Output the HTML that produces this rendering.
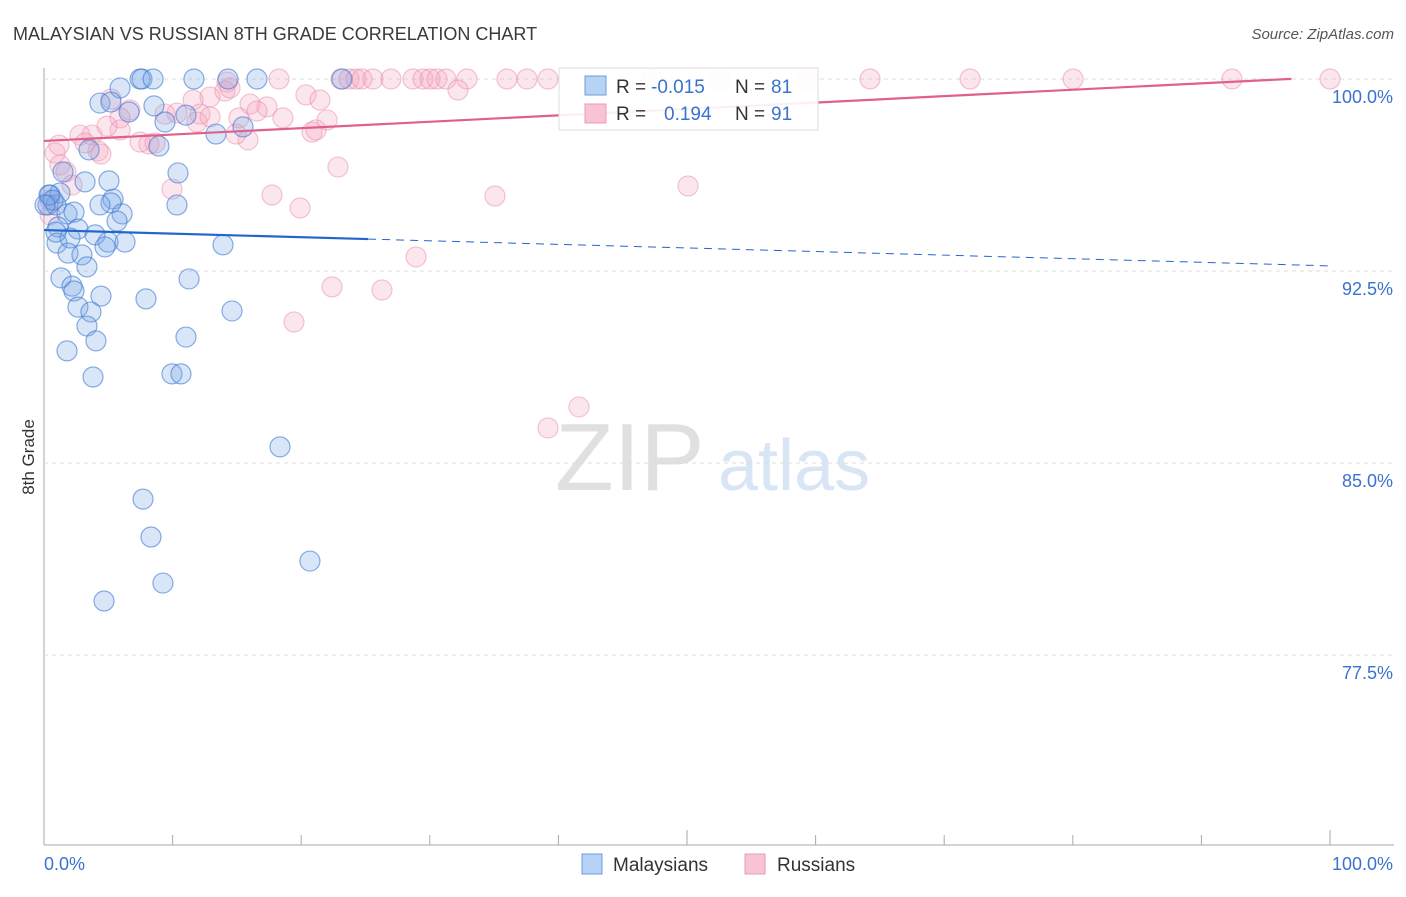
<!DOCTYPE html>
<html><head><meta charset="utf-8"><style>
body{margin:0;background:#fff;font-family:"Liberation Sans",sans-serif}
svg text{font-family:"Liberation Sans",sans-serif}
</style></head><body>
<svg id="c" width="1406" height="892" xmlns="http://www.w3.org/2000/svg">
<text x="13" y="40" font-size="18" fill="#3a3a3a">MALAYSIAN VS RUSSIAN 8TH GRADE CORRELATION CHART</text>
<text x="1394" y="39" font-size="15" fill="#555" font-style="italic" text-anchor="end">Source: ZipAtlas.com</text>
<text x="34" y="457" font-size="17" fill="#333" transform="rotate(-90 34 457)" text-anchor="middle">8th Grade</text>
<g><text x="555" y="490" font-size="96" fill="#e0e0e0" font-family="Liberation Serif,serif">ZIP</text><text x="718" y="490" font-size="72" fill="#d8e5f5">atlas</text></g>
<g id="grid"></g><g id="pts"></g><g id="lines"></g>
<g>
<rect x="559" y="68" width="259" height="62" fill="#fff" fill-opacity="0.9" stroke="#ddd"/>
<rect x="585" y="76" width="21" height="19" fill="#b8d2f4" stroke="#6a9ee0"/>
<rect x="585" y="104" width="21" height="19" fill="#f8c4d4" stroke="#ee9ab6"/>
<text x="616" y="93" font-size="19" fill="#333">R =</text><text x="651" y="93" font-size="19" fill="#3a72d0">-0.015</text>
<text x="735" y="93" font-size="19" fill="#333">N =</text><text x="771" y="93" font-size="19" fill="#3a72d0">81</text>
<text x="616" y="120" font-size="19" fill="#333">R =</text><text x="664" y="120" font-size="19" fill="#3a72d0">0.194</text>
<text x="735" y="120" font-size="19" fill="#333">N =</text><text x="771" y="120" font-size="19" fill="#3a72d0">91</text>
</g>
<g>
<rect x="582" y="854" width="20" height="20" fill="#b8d2f4" stroke="#6a9ee0"/>
<text x="613" y="871" font-size="19" fill="#333">Malaysians</text>
<rect x="745" y="854" width="20" height="20" fill="#f8c4d4" stroke="#ee9ab6"/>
<text x="777" y="871" font-size="19" fill="#333">Russians</text>
</g>
</svg>
<script>
const yTicks=[100,92.5,85,77.5];
const yTickLabels=["100.0%","92.5%","85.0%","77.5%"];
const xTickLabels=["0.0%","100.0%"];
const blueX=[7.47,7.62,8.48,11.66,14.31,16.56,23.17,5.91,4.35,5.21,6.61,8.55,11.04,9.41,13.37,15.47,3.50,8.94,10.42,1.48,3.19,5.05,0.47,1.24,0.31,0.93,5.37,5.21,4.35,10.34,1.79,2.33,6.07,5.68,2.64,1.09,3.97,1.01,2.02,4.98,6.30,4.74,13.92,1.87,2.95,3.34,1.32,11.28,2.18,2.33,4.43,7.93,2.64,3.65,14.62,3.34,11.04,4.04,1.79,9.95,10.65,3.81,18.35,7.70,8.32,20.68,9.25,4.67,0.39,0.70,0.08,0.93];
const blueY=[100,100,100,100,100,100,100,99.65,99.06,99.10,98.71,98.95,98.59,98.32,97.85,98.13,97.23,97.38,96.33,96.37,95.98,96.02,95.47,95.55,95.08,95.08,95.31,95.16,95.08,95.08,94.73,94.80,94.73,94.45,94.14,94.22,93.91,93.59,93.79,93.63,93.63,93.44,93.52,93.20,93.13,92.66,92.23,92.19,91.91,91.72,91.52,91.41,91.09,90.90,90.94,90.35,89.92,89.77,89.38,88.48,88.48,88.36,85.63,83.59,82.11,81.17,80.31,79.61,95.47,95.27,95.08,94.02];
const pinkX=[18.27,23.09,23.72,24.26,24.73,25.58,26.98,28.69,29.47,30.02,30.56,31.26,32.89,36.00,37.56,39.19,47.28,52.57,59.41,64.23,72.01,80.02,92.38,100,14.23,11.59,12.91,16.02,17.34,20.37,21.46,32.19,5.21,14.07,10.34,9.41,6.69,5.91,12.13,15.16,16.56,18.58,22.01,2.80,3.73,5.91,4.90,8.16,11.90,12.91,15.86,8.63,20.84,21.15,3.19,4.20,7.47,0.86,1.24,1.71,2.18,9.95,22.86,17.73,19.91,35.07,50.08,28.93,22.40,26.28,19.44,39.19,41.60,0.47,0.47,4.43,1.17,14.46,14.93];
const pinkY=[100,100,100,100,100,100,100,100,100,100,100,100,100,100,100,100,100,100,100,100,100,100,100,100,99.88,99.18,99.30,99.02,98.91,99.38,99.18,99.57,99.22,99.53,98.67,98.63,98.79,98.48,98.63,98.48,98.75,98.48,98.40,97.81,97.81,98.01,98.16,97.46,98.32,98.52,97.62,97.50,97.93,98.01,97.50,97.19,97.54,97.11,96.64,96.37,95.86,95.70,96.56,95.47,94.96,95.43,95.82,93.05,91.88,91.76,90.51,86.37,87.19,94.69,95.27,97.07,97.42,99.65,97.85];
const blueTrend=[94.10,92.70];
const pinkTrend=[97.58,100.08];
const NS="http://www.w3.org/2000/svg";
const X0=44,X1=1330,Y100=79,PXP=25.6;
const sx=v=>X0+(X1-X0)*v/100, sy=v=>Y100+(100-v)*PXP;
function mk(t,a,p){const e=document.createElementNS(NS,t);for(const k in a)e.setAttribute(k,a[k]);p.appendChild(e);return e;}
const grid=document.getElementById('grid');
mk('line',{x1:44,y1:68,x2:44,y2:845,stroke:'#aaa'},grid);
mk('line',{x1:44,y1:845,x2:1394,y2:845,stroke:'#aaa'},grid);
for(let i=0;i<=10;i++){const l=mk('line',{x1:sx(i*10),x2:sx(i*10),y1:845,y2:i%5==0?830:835,stroke:'#aaa'},grid);

}
yTicks.forEach((v,i)=>{const l=mk('line',{x1:44,x2:1394,y1:sy(v),y2:sy(v),stroke:'#ddd','stroke-dasharray':'4 4'},grid);


const t=mk('text',{x:1393,y:sy(v)+24,'font-size':18,fill:'#3a72d0','text-anchor':'end'},grid);t.textContent=yTickLabels[i];

});
[[44,'start'],[1393,'end']].forEach((p,i)=>{const t=mk('text',{x:p[0],y:870,'font-size':18,fill:'#3a72d0','text-anchor':p[1]},grid);t.textContent=xTickLabels[i];

});
const pts=document.getElementById('pts');
pinkX.forEach((x,i)=>{const c=mk('circle',{cx:sx(x),cy:sy(pinkY[i]),r:10,fill:'rgba(244,165,195,0.28)',stroke:'rgba(232,140,172,0.5)','stroke-width':1.2},pts);

});
blueX.forEach((x,i)=>{const c=mk('circle',{cx:sx(x),cy:sy(blueY[i]),r:10,fill:'rgba(120,165,230,0.28)',stroke:'rgba(60,120,210,0.6)','stroke-width':1.2},pts);

});
const lines=document.getElementById('lines');
const bAt=v=>blueTrend[0]+(blueTrend[1]-blueTrend[0])*v/100;
let l=mk('line',{x1:sx(0),y1:sy(bAt(0)),x2:sx(25.2),y2:sy(bAt(25.2)),stroke:'#2266cc','stroke-width':2.2},lines);


l=mk('line',{x1:sx(25.2),y1:sy(bAt(25.2)),x2:sx(100),y2:sy(bAt(100)),stroke:'#2266cc','stroke-width':1,'stroke-dasharray':'8 6'},lines);


const pAt=v=>pinkTrend[0]+(pinkTrend[1]-pinkTrend[0])*v/100;
l=mk('line',{x1:sx(0),y1:sy(pAt(0)),x2:sx(97),y2:sy(pAt(97)),stroke:'#e0608a','stroke-width':2.2},lines);


</script>
</body></html>
